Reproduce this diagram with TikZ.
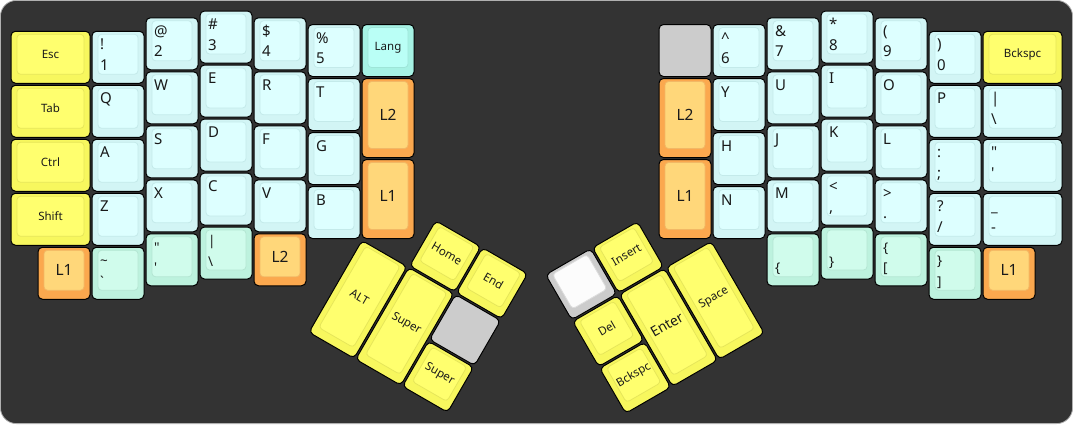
\documentclass[tikz,border=0pt]{standalone}
\usepackage{fontspec}
\setmainfont{Noto Sans}[Ligatures=TeXOff]
\definecolor{bgdark}{HTML}{333333}
\definecolor{bgline}{HTML}{B0B0B0}
\definecolor{legendc}{HTML}{1A1A1A}
\definecolor{ySide}{HTML}{F7F75E}
\definecolor{yTop}{HTML}{FFFF6E}
\definecolor{yLine}{HTML}{E6E65A}
\definecolor{cSide}{HTML}{D2F5F5}
\definecolor{cTop}{HTML}{DDFFFF}
\definecolor{cLine}{HTML}{C4EAEA}
\definecolor{mSide}{HTML}{BDF2DE}
\definecolor{mTop}{HTML}{D0FCEC}
\definecolor{mLine}{HTML}{B4E6D3}
\definecolor{tSide}{HTML}{A6F2E4}
\definecolor{tTop}{HTML}{BAFFF6}
\definecolor{tLine}{HTML}{9EE5D8}
\definecolor{oSide}{HTML}{FBA84E}
\definecolor{oTop}{HTML}{FFD77A}
\definecolor{oLine}{HTML}{F2B865}
\definecolor{gSide}{HTML}{CCCCCC}
\definecolor{wSide}{HTML}{CCCCCC}
\definecolor{wTop}{HTML}{FCFCFC}
\definecolor{wLine}{HTML}{DDDDDD}
\newcommand\bigf{\fontsize{15.5}{16}\selectfont}
\newcommand\enterf{\fontsize{14}{15}\selectfont}
\tikzset{
  keyside/.style={rectangle, draw=black, line width=1pt, rounded corners=4.5pt, inner sep=0pt, outer sep=0pt},
  keytop/.style={rectangle, line width=0.8pt, rounded corners=3.5pt, inner sep=0pt, outer sep=0pt},
  legend/.style={inner sep=0pt, text=legendc, font=\fontsize{15}{15}\selectfont},
  clabel/.style={inner sep=0pt, text=legendc, font=\fontsize{11.5}{12}\selectfont},
  yside/.style={fill=ySide}, ytop/.style={fill=yTop, draw=yLine}, yleg/.style={},
  cside/.style={fill=cSide}, ctop/.style={fill=cTop, draw=cLine}, cleg/.style={},
  mside/.style={fill=mSide}, mtop/.style={fill=mTop, draw=mLine}, mleg/.style={font=\fontsize{13.5}{14}\selectfont},
  tside/.style={fill=tSide}, ttop/.style={fill=tTop, draw=tLine}, tleg/.style={},
  oside/.style={fill=oSide}, otop/.style={fill=oTop, draw=oLine}, oleg/.style={},
  gside/.style={fill=gSide}, gtop/.style={fill=gSide, draw=none}, gleg/.style={},
  wside/.style={fill=wSide}, wtop/.style={fill=wTop, draw=wLine}, wleg/.style={},
}
% name, x, y, w, h, colour, top legend, bottom legend, centre label
\newcommand\kkey[9]{%
  \pgfmathsetmacro\kcx{#2*54+#4*27-1}%
  \pgfmathsetmacro\kcy{#3*54+#5*27-1}%
  \pgfmathsetmacro\kow{#4*54-2}%
  \pgfmathsetmacro\koh{#5*54-2}%
  \pgfmathsetmacro\kiw{#4*54-14}%
  \pgfmathsetmacro\kih{#5*54-14}%
  \pgfmathsetmacro\kiy{\kcy-3}%
  \pgfmathsetmacro\klx{#2*54+8}%
  \pgfmathsetmacro\kty{#3*54+18.5}%
  \pgfmathsetmacro\kby{#3*54+39}%
  \node[keyside,#6side,minimum width=\kow pt,minimum height=\koh pt] (k-#1) at (\kcx,\kcy) {};
  \node[keytop,#6top,minimum width=\kiw pt,minimum height=\kih pt] (k-#1-top) at (\kcx,\kiy) {};
  \if\relax\detokenize{#7}\relax\else
    \node[legend,#6leg,anchor=base west] (k-#1-a) at (\klx,\kty) {#7};\fi
  \if\relax\detokenize{#8}\relax\else
    \node[legend,#6leg,anchor=base west] (k-#1-b) at (\klx,\kby) {#8};\fi
  \if\relax\detokenize{#9}\relax\else
    \node[clabel] (k-#1-c) at (\kcx,\kiy) {#9};\fi
}
\begin{document}
\begin{tikzpicture}[x=1pt,y=-1pt]
\useasboundingbox (0,0) rectangle (1073,424);
\fill[white] (0,0) rectangle (1073,424);
\draw[fill=bgdark, draw=bgline, line width=0.8pt, rounded corners=16pt] (0.4,0.4) rectangle (1072.6,423.6);

\begin{scope}[shift={(11,11)}]
% left hand
\kkey{esc}{0}{0.375}{1.5}{1}{y}{}{}{Esc}
\kkey{tab}{0}{1.375}{1.5}{1}{y}{}{}{Tab}
\kkey{ctrl}{0}{2.375}{1.5}{1}{y}{}{}{Ctrl}
\kkey{shift}{0}{3.375}{1.5}{1}{y}{}{}{Shift}
\kkey{l1a}{0.5}{4.375}{1}{1}{o}{}{}{\bigf L1}
\kkey{n1}{1.5}{0.375}{1}{1}{c}{!}{1}{}
\kkey{q}{1.5}{1.375}{1}{1}{c}{Q}{}{}
\kkey{a}{1.5}{2.375}{1}{1}{c}{A}{}{}
\kkey{z}{1.5}{3.375}{1}{1}{c}{Z}{}{}
\kkey{grave}{1.5}{4.375}{1}{1}{m}{\textasciitilde}{\textasciigrave}{}
\kkey{n2}{2.5}{0.125}{1}{1}{c}{@}{2}{}
\kkey{w}{2.5}{1.125}{1}{1}{c}{W}{}{}
\kkey{s}{2.5}{2.125}{1}{1}{c}{S}{}{}
\kkey{x}{2.5}{3.125}{1}{1}{c}{X}{}{}
\kkey{quotl}{2.5}{4.125}{1}{1}{m}{"}{'}{}
\kkey{n3}{3.5}{0}{1}{1}{c}{\#}{3}{}
\kkey{e}{3.5}{1}{1}{1}{c}{E}{}{}
\kkey{d}{3.5}{2}{1}{1}{c}{D}{}{}
\kkey{c}{3.5}{3}{1}{1}{c}{C}{}{}
\kkey{bsll}{3.5}{4}{1}{1}{m}{|}{\textbackslash}{}
\kkey{n4}{4.5}{0.125}{1}{1}{c}{\$}{4}{}
\kkey{r}{4.5}{1.125}{1}{1}{c}{R}{}{}
\kkey{f}{4.5}{2.125}{1}{1}{c}{F}{}{}
\kkey{v}{4.5}{3.125}{1}{1}{c}{V}{}{}
\kkey{l2a}{4.5}{4.125}{1}{1}{o}{}{}{\bigf L2}
\kkey{n5}{5.5}{0.25}{1}{1}{c}{\%}{5}{}
\kkey{t}{5.5}{1.25}{1}{1}{c}{T}{}{}
\kkey{g}{5.5}{2.25}{1}{1}{c}{G}{}{}
\kkey{b}{5.5}{3.25}{1}{1}{c}{B}{}{}
\kkey{lang}{6.5}{0.25}{1}{1}{t}{}{}{Lang}
\kkey{l2b}{6.5}{1.25}{1}{1.5}{o}{}{}{\bigf L2}
\kkey{l1b}{6.5}{2.75}{1}{1.5}{o}{}{}{\bigf L1}
% right hand
\kkey{blank}{12}{0.25}{1}{1}{g}{}{}{}
\kkey{l2c}{12}{1.25}{1}{1.5}{o}{}{}{\bigf L2}
\kkey{l1c}{12}{2.75}{1}{1.5}{o}{}{}{\bigf L1}
\kkey{n6}{13}{0.25}{1}{1}{c}{\textasciicircum}{6}{}
\kkey{y}{13}{1.25}{1}{1}{c}{Y}{}{}
\kkey{h}{13}{2.25}{1}{1}{c}{H}{}{}
\kkey{n}{13}{3.25}{1}{1}{c}{N}{}{}
\kkey{n7}{14}{0.125}{1}{1}{c}{\&}{7}{}
\kkey{u}{14}{1.125}{1}{1}{c}{U}{}{}
\kkey{j}{14}{2.125}{1}{1}{c}{J}{}{}
\kkey{m}{14}{3.125}{1}{1}{c}{M}{}{}
\kkey{lbrace}{14}{4.125}{1}{1}{m}{}{\{}{}
\kkey{n8}{15}{0}{1}{1}{c}{*}{8}{}
\kkey{i}{15}{1}{1}{1}{c}{I}{}{}
\kkey{k}{15}{2}{1}{1}{c}{K}{}{}
\kkey{comma}{15}{3}{1}{1}{c}{<}{,}{}
\kkey{rbrace}{15}{4}{1}{1}{m}{}{\}}{}
\kkey{n9}{16}{0.125}{1}{1}{c}{(}{9}{}
\kkey{o}{16}{1.125}{1}{1}{c}{O}{}{}
\kkey{l}{16}{2.125}{1}{1}{c}{L}{}{}
\kkey{period}{16}{3.125}{1}{1}{c}{>}{.}{}
\kkey{lbrack}{16}{4.125}{1}{1}{m}{\{}{[}{}
\kkey{n0}{17}{0.375}{1}{1}{c}{)}{0}{}
\kkey{p}{17}{1.375}{1}{1}{c}{P}{}{}
\kkey{semi}{17}{2.375}{1}{1}{c}{:}{;}{}
\kkey{slash}{17}{3.375}{1}{1}{c}{?}{/}{}
\kkey{rbrack}{17}{4.375}{1}{1}{m}{\}}{]}{}
\kkey{bksp}{18}{0.375}{1.5}{1}{y}{}{}{Bckspc}
\kkey{bslr}{18}{1.375}{1.5}{1}{c}{|}{\textbackslash}{}
\kkey{quotr}{18}{2.375}{1.5}{1}{c}{"}{'}{}
\kkey{minus}{18}{3.375}{1.5}{1}{c}{\_}{-}{}
\kkey{l1d}{18}{4.375}{1}{1}{o}{}{}{\bigf L1}
\end{scope}

% left thumb cluster
\begin{scope}[shift={(362,240.5)}, rotate=-30, transform shape]
\kkey{home}{1}{-1}{1}{1}{y}{}{}{Home}
\kkey{end}{2}{-1}{1}{1}{y}{}{}{End}
\kkey{alt}{0}{0}{1}{2}{y}{}{}{ALT}
\kkey{supera}{1}{0}{1}{2}{y}{}{}{Super}
\kkey{thumbg}{2}{0}{1}{1}{g}{}{}{}
\kkey{superb}{2}{1}{1}{1}{y}{}{}{Super}
\end{scope}

% right thumb cluster
\begin{scope}[shift={(713,240.5)}, rotate=30, transform shape]
\kkey{white}{-3}{-1}{1}{1}{w}{}{}{}
\kkey{insert}{-2}{-1}{1}{1}{y}{}{}{Insert}
\kkey{del}{-3}{0}{1}{1}{y}{}{}{Del}
\kkey{enter}{-2}{0}{1}{2}{y}{}{}{\enterf Enter}
\kkey{space}{-1}{0}{1}{2}{y}{}{}{Space}
\kkey{bkspb}{-3}{1}{1}{1}{y}{}{}{Bckspc}
\end{scope}
\end{tikzpicture}
\end{document}
